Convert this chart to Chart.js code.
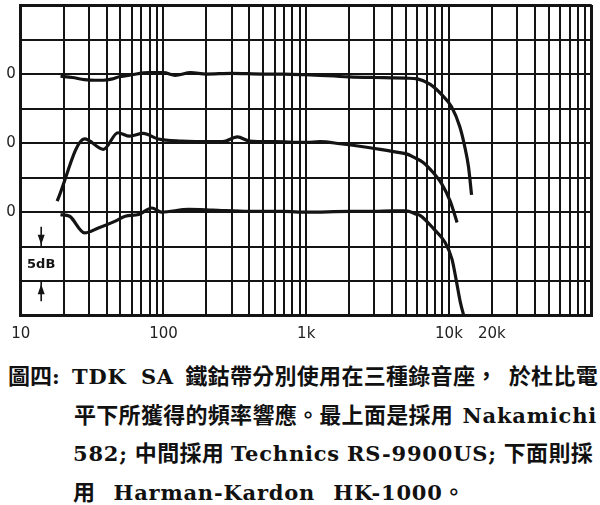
<!DOCTYPE html>
<html lang="zh-Hant">
<head>
<meta charset="UTF-8">
<title>TDK SA 頻率響應</title>
<script src="https://cdn.jsdelivr.net/npm/chart.js"></script>
<style>
  html, body { margin: 0; padding: 0; background: #fff; }
  #wrap { position: relative; width: 600px; height: 505px; overflow: hidden; }
  #chartBox { position: absolute; left: 0; top: 0; width: 600px; height: 345px; }
  .cap {
    position: absolute;
    font-family: "Noto Sans CJK TC", sans-serif;
    font-weight: bold;
    font-size: 22px;
    line-height: 38px;
    height: 38px;
    white-space: nowrap;
    color: #111;
  }
  .just { text-align: justify; text-align-last: justify; white-space: normal; }
  .k { display: inline-block; letter-spacing: 0.3px; }
  .en { font-family: "DejaVu Serif", "Liberation Serif", serif; font-size: 21px; letter-spacing: 0.8px; }
</style>
</head>
<body>
<div id="wrap">
  <div id="chartBox"><canvas id="myChart"></canvas></div>
  <div class="cap" style="left:8px; top:355px;">圖四<span class="en">:</span></div>
  <div class="cap just" style="left:72px; top:355px; width:526px;"><span class="en">TDK SA</span> <span class="k">鐵鈷帶分別使用在三種錄音座，</span> <span class="k">於杜比電</span></div>
  <div class="cap just" style="left:74px; top:394px; width:523px;"><span class="k">平下所獲得的頻率響應。最上面是採用</span> <span class="en">Nakamichi</span></div>
  <div class="cap just" style="left:73px; top:432px; width:520px;"><span class="en">582;</span> <span class="k">中間採用</span> <span class="en">Technics</span> <span class="en">RS-9900US;</span> <span class="k">下面則採</span></div>
  <div class="cap just" style="left:73px; top:471px; width:392px;"><span class="k">用</span> <span class="en">Harman-Kardon</span> <span class="en">HK-1000</span><span class="k">。</span></div>
</div>

<script>
    // grid / tick layout of the chart paper
    const gridSteps = [1, 2, 3, 4, 5, 6, 7, 8, 9];
    const gridDecades = [10, 100, 1000, 10000];
    const labelFreqs = [10, 100, 1000, 10000, 20000];
    const labelTexts = ['10', '100', '1k', '10k', '20k'];

    // each curve sits on its own 0 dB line (y axis in 5 dB steps, 0..45)
    const zeroLevels = [35, 25, 15];

    // Nakamichi 582 (top)
    const nakFreq = [19, 23, 28, 33, 38, 44, 49, 60, 79, 100, 121, 155, 200, 300, 500, 700, 1000, 2000, 3000, 4000, 5000, 6000, 7400, 9100, 10400, 11900, 12900, 13700, 14400];
    const nakDb = [-0.3, -0.5, -0.8, -0.9, -0.9, -0.7, -0.4, -0.1, 0.2, 0.2, -0.2, 0.2, 0.0, 0.1, 0.0, 0.0, -0.1, -0.4, -0.5, -0.55, -0.6, -0.7, -1.5, -3.2, -4.7, -7.6, -10.5, -13.4, -17.5];

    // Technics RS-9900US (middle)
    const tecFreq = [18, 28, 38, 48, 58, 72, 92, 134, 218, 260, 330, 400, 600, 1000, 1250, 1730, 2650, 3300, 4300, 5100, 5600, 6600, 7400, 8900, 10200, 11400];
    const tecDb = [-8.4, 0.6, -0.9, 1.5, 1.0, 1.4, 0.6, 0.3, 0.2, 0.2, 0.9, 0.3, 0.2, 0.1, 0.2, -0.1, -0.6, -0.9, -1.3, -1.6, -2.0, -2.8, -3.8, -5.9, -8.4, -11.5];

    // Harman-Kardon HK-1000 (bottom)
    const hkFreq = [19, 22, 28, 35, 46, 54, 67, 83, 97, 150, 220, 400, 700, 1000, 2000, 3000, 4000, 5000, 5900, 6300, 7800, 9400, 10500, 11300, 12000, 12900];
    const hkDb = [-0.35, -0.6, -3.0, -2.3, -1.3, -0.6, -0.35, 0.6, 0.0, 0.4, 0.3, 0.1, 0.1, 0.0, 0.1, 0.1, 0.2, 0.2, -0.3, -0.5, -2.4, -4.4, -6.8, -10.1, -13.0, -15.5];

    // the "5dB" scale marker sits in the 10-20 Hz column between these levels
    const markCol = [10, 20];
    const markSpan = [5, 10];

    const gridFreqs = [];
    gridDecades.forEach(d => gridSteps.forEach(s => gridFreqs.push(d * s)));
    gridFreqs.push(100000);

    function toPoints(freqs, db, zero) {
        return freqs.map((f, i) => ({ x: f, y: zero + db[i] }));
    }

    const ink = '#141414';

    const dbMarker = {
        id: 'dbMarker',
        afterDraw(chart) {
            const { ctx, scales: { x, y } } = chart;
            const cx = x.getPixelForValue(Math.sqrt(markCol[0] * markCol[1])) - 1;
            const yTop = y.getPixelForValue(markSpan[1]);
            const yBot = y.getPixelForValue(markSpan[0]);
            ctx.save();
            ctx.fillStyle = ink;
            ctx.strokeStyle = ink;
            ctx.font = 'bold 13px "DejaVu Sans"';
            ctx.textAlign = 'center';
            ctx.textBaseline = 'middle';
            ctx.fillText('5dB', cx, (yTop + yBot) / 2 + 1);
            ctx.lineWidth = 1.6;
            // arrow pointing down onto the upper line
            ctx.beginPath();
            ctx.moveTo(cx, yTop - 20);
            ctx.lineTo(cx, yTop);
            ctx.stroke();
            ctx.beginPath();
            ctx.moveTo(cx, yTop - 2);
            ctx.lineTo(cx - 3.5, yTop - 12);
            ctx.lineTo(cx + 3.5, yTop - 12);
            ctx.closePath();
            ctx.fill();
            // arrow pointing up onto the lower line
            ctx.beginPath();
            ctx.moveTo(cx, yBot);
            ctx.lineTo(cx, yBot + 20);
            ctx.stroke();
            ctx.beginPath();
            ctx.moveTo(cx, yBot + 3);
            ctx.lineTo(cx - 3.5, yBot + 13);
            ctx.lineTo(cx + 3.5, yBot + 13);
            ctx.closePath();
            ctx.fill();
            ctx.restore();
        }
    };

    const curveStyle = {
        borderColor: ink,
        borderWidth: 3.2,
        pointRadius: 0,
        fill: false,
        cubicInterpolationMode: 'monotone'
    };

    const ctx = document.getElementById('myChart').getContext('2d');
    const chart = new Chart(ctx, {
        type: 'line',
        data: {
            datasets: [
                { label: 'Nakamichi 582', data: toPoints(nakFreq, nakDb, zeroLevels[0]), ...curveStyle },
                { label: 'Technics RS-9900US', data: toPoints(tecFreq, tecDb, zeroLevels[1]), ...curveStyle },
                { label: 'Harman-Kardon HK-1000', data: toPoints(hkFreq, hkDb, zeroLevels[2]), ...curveStyle }
            ]
        },
        options: {
            responsive: true,
            maintainAspectRatio: false,
            animation: false,
            layout: { padding: { top: 5, right: 8.3, left: 0, bottom: 0 } },
            plugins: {
                legend: { display: false },
                tooltip: { enabled: false }
            },
            scales: {
                x: {
                    type: 'logarithmic',
                    min: 10,
                    max: 100000,
                    afterBuildTicks: (s) => { s.ticks = gridFreqs.map(v => ({ value: v })); },
                    afterFit: (s) => { s.height = 29.3; s.paddingLeft = 0; s.paddingRight = 0; },
                    grid: {
                        color: ink,
                        lineWidth: (c) => (c.tick && c.tick.value === 100000 ? 3 : 2),
                        drawTicks: false
                    },
                    border: { color: ink, width: 3 },
                    ticks: {
                        autoSkip: false,
                        maxRotation: 0,
                        padding: 9,
                        color: '#222',
                        font: { family: 'DejaVu Sans', size: 15 },
                        callback: (v) => {
                            const i = labelFreqs.indexOf(v);
                            return i >= 0 ? labelTexts[i] : '';
                        }
                    }
                },
                y: {
                    min: 0,
                    max: 45,
                    afterFit: (s) => { s.width = 20.7; s.paddingTop = 0; s.paddingBottom = 0; },
                    grid: {
                        color: ink,
                        lineWidth: (c) => (c.tick && c.tick.value === 45 ? 3 : 2),
                        drawTicks: false
                    },
                    border: { color: ink, width: 3 },
                    ticks: {
                        stepSize: 5,
                        autoSkip: false,
                        padding: 5,
                        color: '#222',
                        font: { family: 'DejaVu Sans', size: 15 },
                        callback: (v) => (zeroLevels.includes(v) ? '0' : '')
                    }
                }
            }
        },
        plugins: [dbMarker]
    });
</script>
</body>
</html>
